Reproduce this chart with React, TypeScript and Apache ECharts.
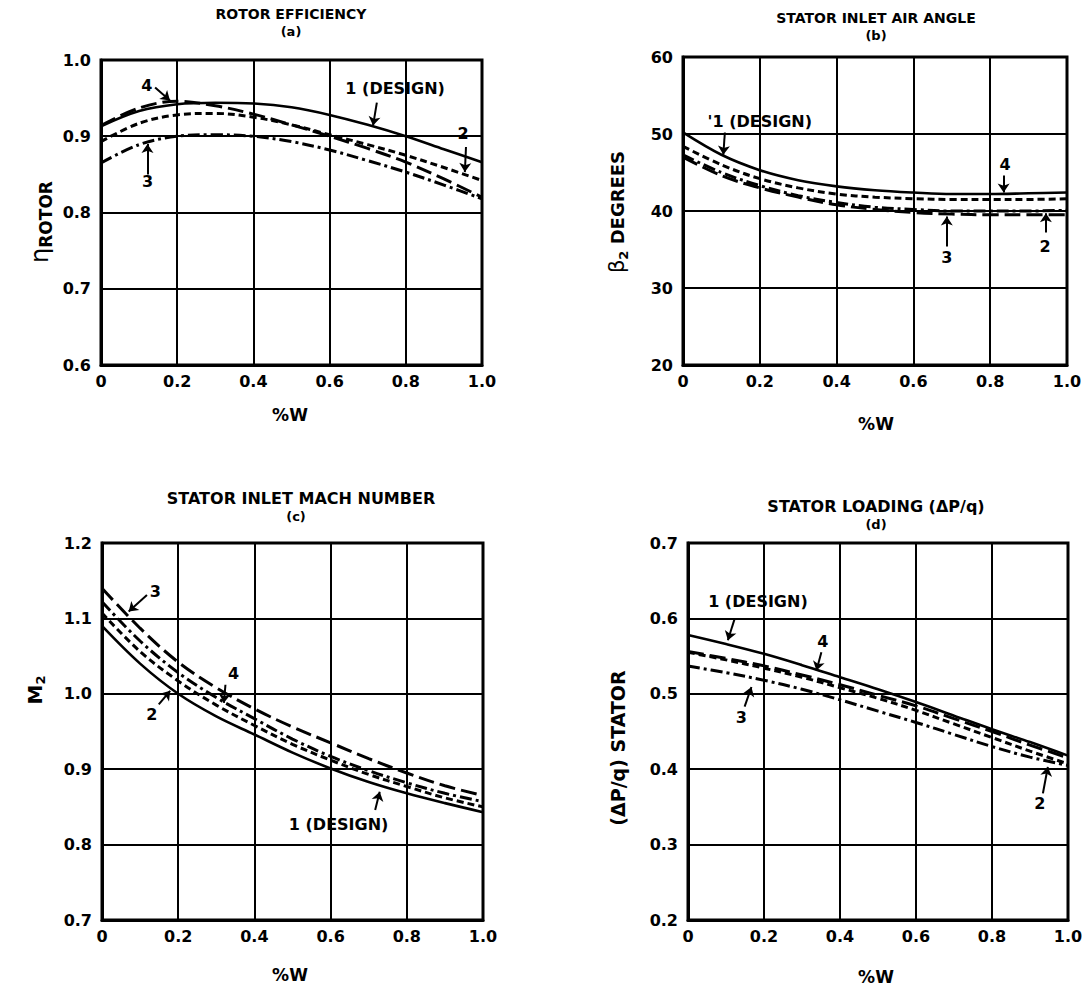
import React, { useEffect, useRef } from "react";
import * as echarts from "echarts";

// ---- data ----
const X = [0, 0.1, 0.2, 0.3, 0.4, 0.5, 0.6, 0.7, 0.8, 0.9, 1.0];

// (a) rotor efficiency
const A1 = [0.913, 0.933, 0.942, 0.944, 0.943, 0.938, 0.928, 0.915, 0.9, 0.883, 0.866];
const A2 = [0.893, 0.917, 0.928, 0.93, 0.925, 0.915, 0.902, 0.889, 0.875, 0.859, 0.842];
const A3 = [0.865, 0.889, 0.9, 0.902, 0.9, 0.893, 0.882, 0.868, 0.853, 0.836, 0.818];
const A4 = [0.914, 0.937, 0.946, 0.94, 0.929, 0.915, 0.9, 0.884, 0.866, 0.844, 0.82];

// (b) stator inlet air angle
const B1 = [50.2, 47.3, 45.3, 44.0, 43.2, 42.7, 42.4, 42.2, 42.2, 42.3, 42.4];
const B2 = [47.0, 44.6, 43.0, 41.8, 40.8, 40.2, 39.8, 39.6, 39.5, 39.5, 39.5];
const B3 = [47.3, 45.0, 43.3, 42.0, 41.1, 40.5, 40.2, 40.0, 40.0, 40.0, 40.1];
const B4 = [48.4, 46.0, 44.2, 43.0, 42.2, 41.8, 41.6, 41.5, 41.5, 41.5, 41.6];

// (c) stator inlet Mach number
const C1 = [1.09, 1.04, 1.0, 0.97, 0.946, 0.922, 0.901, 0.883, 0.868, 0.855, 0.843];
const C2 = [1.107, 1.056, 1.017, 0.985, 0.958, 0.933, 0.912, 0.893, 0.877, 0.862, 0.85];
const C3 = [1.14, 1.087, 1.042, 1.008, 0.98, 0.956, 0.935, 0.914, 0.895, 0.878, 0.865];
const C4 = [1.122, 1.07, 1.028, 0.995, 0.967, 0.94, 0.917, 0.898, 0.882, 0.868, 0.857];

// (d) stator loading
const D1 = [0.578, 0.566, 0.553, 0.538, 0.522, 0.506, 0.489, 0.471, 0.453, 0.436, 0.418];
const D2 = [0.555, 0.545, 0.534, 0.522, 0.508, 0.494, 0.478, 0.46, 0.442, 0.424, 0.407];
const D3 = [0.537, 0.528, 0.518, 0.506, 0.492, 0.477, 0.462, 0.446, 0.43, 0.416, 0.405];
const D4 = [0.556, 0.547, 0.537, 0.525, 0.512, 0.498, 0.484, 0.467, 0.45, 0.432, 0.415];

// axis ranges
const Y_RANGES = [
  [0.6, 1.0, 0.1],
  [20, 60, 10],
  [0.7, 1.2, 0.1],
  [0.2, 0.7, 0.1],
];

const TITLES = ["ROTOR EFFICIENCY", "STATOR INLET AIR ANGLE", "STATOR INLET MACH NUMBER", "STATOR LOADING (\u0394P/q)"];
const SUBTITLES = ["(a)", "(b)", "(c)", "(d)"];

// annotations: label text/position and arrow [x0,y0,x1,y1] in data units
const ANN = [
  [
    { t: "4", x: 0.12, y: 0.967, a: [0.142, 0.964, 0.181, 0.947] },
    { t: "1 (DESIGN)", x: 0.772, y: 0.963, a: [0.724, 0.944, 0.714, 0.914] },
    { t: "2", x: 0.95, y: 0.903, a: [0.958, 0.886, 0.955, 0.853] },
    { t: "3", x: 0.122, y: 0.841, a: [0.122, 0.85, 0.122, 0.89] },
  ],
  [
    { t: "'1 (DESIGN)", x: 0.2, y: 51.6, a: [0.109, 50.2, 0.105, 47.3] },
    { t: "4", x: 0.839, y: 46.1, a: [0.835, 44.6, 0.835, 42.4] },
    { t: "3", x: 0.687, y: 34.0, a: [0.687, 35.4, 0.687, 39.3] },
    { t: "2", x: 0.943, y: 35.4, a: [0.945, 37.2, 0.945, 39.7] },
  ],
  [
    { t: "3", x: 0.14, y: 1.136, a: [0.118, 1.131, 0.07, 1.109] },
    { t: "4", x: 0.345, y: 1.027, a: [0.324, 1.012, 0.32, 0.988] },
    { t: "2", x: 0.131, y: 0.972, a: [0.149, 0.986, 0.179, 1.004] },
    { t: "1 (DESIGN)", x: 0.621, y: 0.826, a: [0.717, 0.846, 0.729, 0.87] },
  ],
  [
    { t: "1 (DESIGN)", x: 0.184, y: 0.622, a: [0.123, 0.6, 0.105, 0.571] },
    { t: "4", x: 0.355, y: 0.569, a: [0.351, 0.555, 0.338, 0.531] },
    { t: "3", x: 0.14, y: 0.469, a: [0.149, 0.483, 0.167, 0.509] },
    { t: "2", x: 0.926, y: 0.355, a: [0.934, 0.368, 0.947, 0.403] },
  ],
];

const GRIDS = [
  { left: 101, top: 60, width: 381, height: 305 },
  { left: 683, top: 57, width: 384, height: 308 },
  { left: 102, top: 543, width: 381, height: 377 },
  { left: 688, top: 543, width: 380, height: 377 },
];

const FONT = "'DejaVu Sans', 'Liberation Sans', sans-serif";

// line styles per chart, per curve (1..4)
const SOLID = { width: 2.6, type: "solid" };
const SHORT = { width: 3, type: [7, 4] };
const DASHDOT = { width: 3, type: [12, 4, 3, 4] };
const LONG = { width: 3, type: [16, 6] };
const STYLES: any[][] = [
  [SOLID, SHORT, DASHDOT, LONG],
  [SOLID, LONG, DASHDOT, SHORT],
  [SOLID, SHORT, LONG, DASHDOT],
  [SOLID, SHORT, DASHDOT, LONG],
];

export default function App() {
  const ref = useRef<HTMLDivElement>(null);
  useEffect(() => {
    if (!ref.current) return;
    const chart = echarts.init(ref.current, undefined, { renderer: "svg" });
    const all = [
      [A1, A2, A3, A4],
      [B1, B2, B3, B4],
      [C1, C2, C3, C4],
      [D1, D2, D3, D4],
    ];
    const series: any[] = [];
    all.forEach((set, g) => {
      set.forEach((vals, k) => {
        const st = STYLES[g][k];
        series.push({
          type: "line",
          xAxisIndex: g,
          yAxisIndex: g,
          data: X.map((x, i) => [x, vals[i]]),
          smooth: 0.35,
          symbol: "none",
          silent: true,
          lineStyle: { color: "#000", width: st.width, type: st.type },
          z: 5,
        });
      });
      series.push({
        type: "line",
        xAxisIndex: g,
        yAxisIndex: g,
        data: [],
        symbol: "none",
        silent: true,
        markLine: {
          silent: true,
          symbol: ["none", "arrow"],
          symbolSize: 9,
          label: { show: false },
          lineStyle: { color: "#000", width: 2, type: "solid" },
          data: ANN[g].map((a) => [{ coord: [a.a[0], a.a[1]] }, { coord: [a.a[2], a.a[3]] }]),
        },
        markPoint: {
          silent: true,
          symbol: "circle",
          symbolSize: 1,
          itemStyle: { color: "rgba(0,0,0,0)" },
          label: {
            show: true,
            position: "inside",
            formatter: "{b}",
            color: "#000",
            fontWeight: "bold",
            fontSize: 16,
            fontFamily: FONT,
          },
          data: ANN[g].map((a) => ({ name: a.t, coord: [a.x, a.y] })),
        },
      });
    });

    const xAxis = GRIDS.map((_, g) => ({
      type: "value",
      gridIndex: g,
      min: 0,
      max: 1,
      interval: 0.2,
      axisTick: { show: false },
      axisLine: { show: true, lineStyle: { color: "#000", width: 3 } },
      splitLine: { show: true, lineStyle: { color: "#000", width: 2 } },
      axisLabel: {
        color: "#000",
        fontWeight: "bold",
        fontSize: 16,
        fontFamily: FONT,
        margin: 8,
        formatter: (v: number) => (v === 0 ? "0" : v.toFixed(1)),
      },
    }));
    const yAxis = GRIDS.map((_, g) => ({
      type: "value",
      gridIndex: g,
      min: Y_RANGES[g][0],
      max: Y_RANGES[g][1],
      interval: Y_RANGES[g][2],
      axisTick: { show: false },
      axisLine: { show: true, lineStyle: { color: "#000", width: 3 } },
      splitLine: { show: true, lineStyle: { color: "#000", width: 2 } },
      axisLabel: {
        color: "#000",
        fontWeight: "bold",
        fontSize: 16,
        fontFamily: FONT,
        margin: 10,
        formatter: (v: number) => (g === 1 ? String(Math.round(v)) : v.toFixed(1)),
      },
    }));

    const titlePos = [
      [291, 14, 14],
      [876, 18, 14],
      [301, 498, 16],
      [876, 506, 16],
    ];
    const subPos = [
      [291, 31],
      [876, 35],
      [296, 516],
      [876, 524],
    ];
    const xNamePos = [
      [290, 415],
      [876, 424],
      [290, 975],
      [876, 977],
    ];
    const graphic: any[] = [];
    TITLES.forEach((t, i) => {
      graphic.push({
        type: "text",
        x: titlePos[i][0],
        y: titlePos[i][1],
        style: {
          text: t,
          fill: "#000",
          font: `bold ${titlePos[i][2]}px ${FONT}`,
          align: "center",
          verticalAlign: "middle",
        },
      });
      graphic.push({
        type: "text",
        x: subPos[i][0],
        y: subPos[i][1],
        style: { text: SUBTITLES[i], fill: "#000", font: `bold 13px ${FONT}`, align: "center", verticalAlign: "middle" },
      });
      graphic.push({
        type: "text",
        x: xNamePos[i][0],
        y: xNamePos[i][1],
        style: { text: "%W", fill: "#000", font: `bold 17px ${FONT}`, align: "center", verticalAlign: "middle" },
      });
    });
    // y axis names (rotated)
    graphic.push({
      type: "text",
      x: 40,
      y: 222,
      rotation: Math.PI / 2,
      style: {
        text: "{a|\u03b7}{b|ROTOR}",
        fill: "#000",
        align: "center",
        verticalAlign: "middle",
        rich: {
          a: { fontSize: 24, fontFamily: FONT, fill: "#000" },
          b: { fontSize: 17, fontWeight: "bold", fontFamily: FONT, fill: "#000", padding: [12, 0, 0, 0] },
        },
      },
    });
    graphic.push({
      type: "text",
      x: 617,
      y: 212,
      rotation: Math.PI / 2,
      style: {
        text: "{a|\u03b2}{s|2}{b| DEGREES}",
        fill: "#000",
        align: "center",
        verticalAlign: "middle",
        rich: {
          a: { fontSize: 21, fontFamily: FONT, fill: "#000" },
          s: { fontSize: 13, fontWeight: "bold", fontFamily: FONT, fill: "#000", padding: [12, 0, 0, 0] },
          b: { fontSize: 18, fontWeight: "bold", fontFamily: FONT, fill: "#000" },
        },
      },
    });
    graphic.push({
      type: "text",
      x: 35,
      y: 690,
      rotation: Math.PI / 2,
      style: {
        text: "{a|M}{s|2}",
        fill: "#000",
        align: "center",
        verticalAlign: "middle",
        rich: {
          a: { fontSize: 20, fontWeight: "bold", fontFamily: FONT, fill: "#000" },
          s: { fontSize: 13, fontWeight: "bold", fontFamily: FONT, fill: "#000", padding: [10, 0, 0, 0] },
        },
      },
    });
    graphic.push({
      type: "text",
      x: 618,
      y: 748,
      rotation: Math.PI / 2,
      style: {
        text: "(\u0394P/q) STATOR",
        fill: "#000",
        font: `bold 19px ${FONT}`,
        align: "center",
        verticalAlign: "middle",
      },
    });

    chart.setOption({
      animation: false,
      backgroundColor: "#fff",
      grid: GRIDS.map((g) => ({ ...g, show: true, borderColor: "#000", borderWidth: 3, containLabel: false })),
      xAxis,
      yAxis,
      series,
      graphic,
    });
    return () => chart.dispose();
  }, []);
  return <div ref={ref} style={{ position: "fixed", left: 0, top: 0, width: 1091, height: 991 }} />;
}
